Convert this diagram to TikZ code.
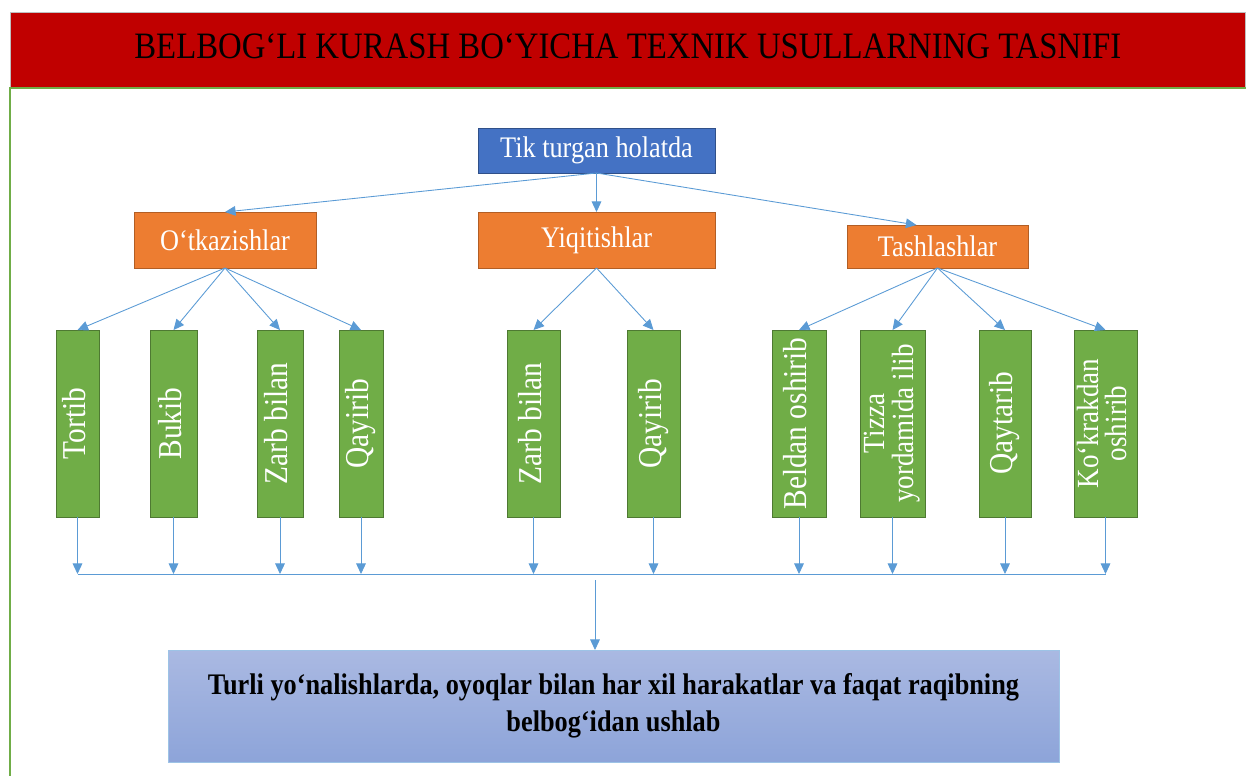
\documentclass[tikz,border=0pt]{standalone}
\usepackage{fontspec}
\setmainfont[FakeStretch=0.88]{Liberation Serif}
\usepackage{xcolor}
\usetikzlibrary{positioning,arrows.meta}

\definecolor{banner}{HTML}{C00000}
\definecolor{topblue}{HTML}{4472C4}
\definecolor{orng}{HTML}{ED7D31}
\definecolor{grn}{HTML}{70AD47}
\definecolor{link}{HTML}{5B9BD5}
\definecolor{restop}{HTML}{AAB9E2}
\definecolor{resbot}{HTML}{8DA4D9}

\newcommand{\vtext}[1]{\rotatebox{90}{\begin{tabular}{@{}c@{}}#1\end{tabular}}}

\begin{document}
\begin{tikzpicture}[x=0.02cm, y=-0.02cm,
  every node/.style={inner sep=0pt, outer sep=0pt},
  head/.style={draw=topblue!70!black, fill=topblue, text=white,
    font=\fontsize{17}{20}\selectfont, minimum width=4.74cm, minimum height=0.9cm},
  group/.style={draw=orng!75!black, fill=orng, text=white,
    font=\fontsize{17}{20}\selectfont, minimum height=1.12cm},
  usul/.style={draw=grn!70!black, fill=grn, text=white,
    font=\fontsize{19}{15}\selectfont, minimum height=3.74cm},
  twoline/.style={font=\fontsize{17.5}{14}\selectfont},
  arr/.style={draw=link, line width=0.5pt, -{Triangle[length=6pt,width=5.5pt]}},
  bus/.style={draw=link, line width=0.5pt},
]
  \useasboundingbox (0,0) rectangle (1246,776);

  \node[fill=banner, draw=gray!50, minimum width=24.72cm, minimum height=1.52cm,
        anchor=north west, font=\fontsize{21.2}{24}\selectfont] (title) at (10,12)
        {\raisebox{0.15cm}{BELBOG‘LI KURASH BO‘YICHA TEXNIK USULLARNING TASNIFI}};
  \draw[grn, line width=0.6pt] (title.south east) -- (title.south west) -- (10,776);

  \node[head] (tik) at (596.5,150.5) {Tik turgan holatda};
  \node[group, minimum width=3.64cm] (otk) at (225,240) {O‘tkazishlar};
  \node[group, minimum width=4.74cm] (yiq) at (596.5,240) {Yiqitishlar};
  \node[group, minimum width=3.62cm, minimum height=0.86cm] (tash) at (937.5,246.5) {Tashlashlar};

  \node[usul, minimum width=0.86cm] (u1) at (77.5,423.5) {\vtext{Tortib}};
  \node[usul, minimum width=0.94cm] (u2) at (173.5,423.5) {\vtext{Bukib}};
  \node[usul, minimum width=0.92cm] (u3) at (280,423.5) {\vtext{Zarb bilan}};
  \node[usul, minimum width=0.88cm] (u4) at (361,423.5) {\vtext{Qayirib}};
  \node[usul, minimum width=1.06cm] (u5) at (533.5,423.5) {\vtext{Zarb bilan}};
  \node[usul, minimum width=1.06cm] (u6) at (653.5,423.5) {\vtext{Qayirib}};
  \node[usul, minimum width=1.08cm] (u7) at (799,423.5) {\vtext{Beldan oshirib}};
  \node[usul, twoline, minimum width=1.30cm] (u8) at (892.5,423.5) {\vtext{Tizza\\yordamida ilib}};
  \node[usul, minimum width=1.04cm] (u9) at (1005,423.5) {\vtext{Qaytarib}};
  \node[usul, twoline, minimum width=1.26cm] (u10) at (1105.5,423.5) {\vtext{Ko‘krakdan\\oshirib}};

  \node[draw=link!60, top color=restop, bottom color=resbot, minimum width=17.82cm,
        minimum height=2.24cm, align=center, font=\bfseries\fontsize{17}{21}\selectfont]
        (res) at (613.5,706)
        {Turli yo‘nalishlarda, oyoqlar bilan har xil harakatlar va faqat raqibning\\belbog‘idan ushlab};

  \coordinate (line) at (0,574);
  \coordinate (join) at (595,580);

  \draw[arr] (tik.south) -- (otk.north);
  \draw[arr] (tik.south) -- (yiq.north);
  \draw[arr] (tik.south) -- ([xshift=-12]tash.north);
  \draw[arr] (otk.south) -- (u1.north);
  \draw[arr] (otk.south) -- (u2.north);
  \draw[arr] (otk.south) -- (u3.north);
  \draw[arr] (otk.south) -- (u4.north);
  \draw[arr] (yiq.south) -- (u5.north);
  \draw[arr] (yiq.south) -- (u6.north);
  \draw[arr] (tash.south) -- (u7.north);
  \draw[arr] (tash.south) -- (u8.north);
  \draw[arr] (tash.south) -- (u9.north);
  \draw[arr] (tash.south) -- (u10.north);

  \draw[arr] (u1.south) -- (u1.south |- line);
  \draw[arr] (u2.south) -- (u2.south |- line);
  \draw[arr] (u3.south) -- (u3.south |- line);
  \draw[arr] (u4.south) -- (u4.south |- line);
  \draw[arr] (u5.south) -- (u5.south |- line);
  \draw[arr] (u6.south) -- (u6.south |- line);
  \draw[arr] (u7.south) -- (u7.south |- line);
  \draw[arr] (u8.south) -- (u8.south |- line);
  \draw[arr] (u9.south) -- (u9.south |- line);
  \draw[arr] (u10.south) -- (u10.south |- line);
  \draw[bus] (u1.south |- line) -- (u10.south |- line);
  \draw[arr] (join) -- (join |- res.north);
\end{tikzpicture}
\end{document}
